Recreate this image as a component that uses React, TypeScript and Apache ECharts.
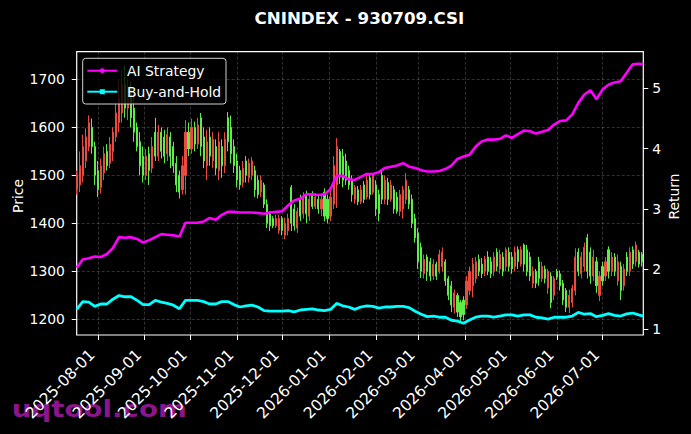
import React, { useEffect, useRef } from "react";
import * as echarts from "echarts";

const TITLE = "CNINDEX - 930709.CSI";
const START_DATE = "2025-07-18";
const END_DATE = "2026-07-28";
const CANDLE_STEP_DAYS = 2;
const LINE_STEP_DAYS = 4;

const MONTH_TICKS = [
  "2025-08-01", "2025-09-01", "2025-10-01", "2025-11-01", "2025-12-01", "2026-01-01",
  "2026-02-01", "2026-03-01", "2026-04-01", "2026-05-01", "2026-06-01", "2026-07-01",
];
const PRICE_TICKS = [1200, 1300, 1400, 1500, 1600, 1700];
const RETURN_TICKS = [1, 2, 3, 4, 5];

// [open, close, low, high], one every 2 days from START_DATE
const CANDLES: number[][] = [
  [1472, 1498, 1460, 1510], [1480, 1520, 1465, 1550], [1500, 1560, 1485, 1585], [1530, 1580, 1515, 1598],
  [1560, 1610, 1550, 1625], [1600, 1560, 1545, 1618], [1560, 1500, 1480, 1570], [1510, 1470, 1455, 1530],
  [1475, 1520, 1462, 1535], [1505, 1545, 1490, 1560], [1550, 1520, 1510, 1565], [1525, 1565, 1515, 1580],
  [1550, 1590, 1530, 1600], [1580, 1630, 1570, 1650], [1610, 1660, 1590, 1700], [1630, 1690, 1610, 1720],
  [1690, 1640, 1620, 1730], [1640, 1680, 1615, 1700], [1680, 1620, 1600, 1695], [1640, 1590, 1570, 1670],
  [1600, 1560, 1550, 1610], [1570, 1520, 1500, 1590], [1540, 1500, 1485, 1560], [1500, 1540, 1490, 1555],
  [1545, 1510, 1480, 1560], [1515, 1560, 1505, 1580], [1590, 1540, 1530, 1620], [1540, 1590, 1530, 1605],
  [1590, 1550, 1535, 1600], [1580, 1540, 1525, 1595], [1545, 1585, 1530, 1600], [1580, 1540, 1515, 1590],
  [1560, 1520, 1505, 1570], [1525, 1480, 1465, 1540], [1500, 1465, 1452, 1510], [1470, 1520, 1460, 1540],
  [1500, 1590, 1460, 1615], [1590, 1555, 1540, 1610], [1555, 1600, 1545, 1618], [1600, 1565, 1550, 1612],
  [1565, 1605, 1555, 1620], [1620, 1560, 1540, 1630], [1580, 1530, 1515, 1600], [1520, 1570, 1490, 1595],
  [1580, 1540, 1520, 1600], [1530, 1575, 1515, 1590], [1560, 1515, 1500, 1575], [1510, 1570, 1490, 1590],
  [1560, 1520, 1495, 1575], [1520, 1575, 1505, 1590], [1620, 1570, 1550, 1632], [1600, 1545, 1525, 1625],
  [1560, 1520, 1505, 1575], [1530, 1490, 1475, 1545], [1510, 1480, 1470, 1520], [1485, 1515, 1475, 1530],
  [1530, 1500, 1485, 1540], [1495, 1525, 1485, 1535], [1500, 1530, 1490, 1538], [1510, 1470, 1455, 1520],
  [1490, 1460, 1452, 1500], [1465, 1490, 1455, 1500], [1480, 1440, 1432, 1485], [1440, 1400, 1390, 1450],
  [1420, 1395, 1384, 1425], [1410, 1395, 1390, 1415], [1395, 1410, 1390, 1418], [1385, 1410, 1378, 1418],
  [1410, 1385, 1375, 1415], [1375, 1400, 1367, 1412], [1385, 1410, 1375, 1420], [1475, 1400, 1384, 1480],
  [1430, 1395, 1385, 1440], [1390, 1425, 1380, 1433], [1450, 1415, 1405, 1460], [1420, 1455, 1410, 1465],
  [1460, 1420, 1400, 1468], [1415, 1450, 1405, 1460], [1460, 1435, 1430, 1467], [1435, 1455, 1430, 1462],
  [1450, 1430, 1420, 1458], [1430, 1450, 1415, 1460], [1465, 1415, 1404, 1473], [1450, 1410, 1400, 1460],
  [1415, 1455, 1405, 1470], [1440, 1520, 1430, 1540], [1480, 1560, 1432, 1578], [1550, 1500, 1482, 1555],
  [1540, 1490, 1475, 1555], [1530, 1490, 1480, 1545], [1510, 1480, 1470, 1520], [1490, 1460, 1445, 1500],
  [1450, 1475, 1441, 1480], [1470, 1445, 1438, 1478], [1445, 1470, 1440, 1480], [1480, 1450, 1442, 1488],
  [1455, 1490, 1450, 1500], [1495, 1460, 1450, 1505], [1465, 1500, 1460, 1505], [1480, 1430, 1415, 1490],
  [1460, 1420, 1404, 1470], [1500, 1450, 1440, 1510], [1450, 1490, 1440, 1500], [1485, 1450, 1438, 1495],
  [1450, 1480, 1445, 1490], [1470, 1430, 1420, 1478], [1455, 1425, 1420, 1465], [1425, 1460, 1415, 1470],
  [1430, 1470, 1410, 1478], [1450, 1490, 1440, 1505], [1470, 1440, 1430, 1478], [1450, 1400, 1390, 1460],
  [1410, 1370, 1360, 1420], [1380, 1320, 1305, 1390], [1350, 1300, 1286, 1360], [1295, 1325, 1285, 1335],
  [1330, 1300, 1280, 1335], [1320, 1290, 1280, 1328], [1290, 1315, 1282, 1325], [1315, 1290, 1282, 1320],
  [1300, 1335, 1295, 1345], [1310, 1340, 1300, 1350], [1320, 1280, 1270, 1325], [1285, 1250, 1240, 1290],
  [1270, 1230, 1215, 1280], [1225, 1255, 1212, 1262], [1250, 1215, 1205, 1255], [1235, 1205, 1195, 1240],
  [1240, 1210, 1198, 1248], [1230, 1280, 1222, 1290], [1260, 1300, 1250, 1310], [1270, 1315, 1246, 1328],
  [1285, 1320, 1275, 1330], [1325, 1300, 1290, 1335], [1315, 1295, 1286, 1328], [1300, 1325, 1290, 1332],
  [1330, 1300, 1292, 1342], [1320, 1295, 1286, 1330], [1300, 1330, 1290, 1340], [1340, 1310, 1300, 1348],
  [1305, 1335, 1295, 1345], [1330, 1300, 1290, 1340], [1310, 1345, 1300, 1350], [1340, 1310, 1300, 1350],
  [1330, 1305, 1295, 1340], [1310, 1340, 1300, 1352], [1345, 1320, 1305, 1352], [1315, 1345, 1310, 1352],
  [1355, 1315, 1300, 1358], [1345, 1300, 1290, 1355], [1330, 1290, 1280, 1340], [1275, 1300, 1265, 1310],
  [1300, 1275, 1265, 1305], [1320, 1285, 1270, 1330], [1285, 1310, 1278, 1320], [1305, 1285, 1275, 1312],
  [1265, 1300, 1253, 1305], [1290, 1235, 1223, 1298], [1250, 1285, 1240, 1290], [1300, 1288, 1282, 1305],
  [1295, 1270, 1260, 1302], [1275, 1240, 1230, 1282], [1260, 1225, 1215, 1265], [1225, 1250, 1213, 1262],
  [1235, 1265, 1225, 1272], [1260, 1330, 1250, 1348], [1340, 1300, 1290, 1348], [1295, 1330, 1285, 1340],
  [1310, 1350, 1300, 1360], [1370, 1300, 1285, 1378], [1340, 1290, 1274, 1350], [1290, 1330, 1280, 1345],
  [1320, 1270, 1255, 1330], [1250, 1290, 1238, 1300], [1310, 1280, 1270, 1320], [1290, 1320, 1280, 1330],
  [1345, 1300, 1285, 1352], [1300, 1330, 1290, 1340], [1330, 1300, 1290, 1338], [1280, 1320, 1270, 1335],
  [1310, 1260, 1240, 1320], [1270, 1305, 1260, 1315], [1330, 1300, 1290, 1340], [1300, 1340, 1290, 1350],
  [1345, 1315, 1305, 1352], [1320, 1355, 1310, 1362], [1340, 1315, 1308, 1345], [1335, 1320, 1310, 1340],
];

// cumulative return, one point every 4 days from START_DATE, last point on END_DATE
const AI_STRATEGY = [
  2.02, 2.16, 2.18, 2.21, 2.20, 2.25, 2.35, 2.53, 2.52, 2.53,
  2.50, 2.44, 2.48, 2.53, 2.58, 2.57, 2.56, 2.54, 2.77, 2.77,
  2.77, 2.79, 2.85, 2.82, 2.90, 2.95, 2.95, 2.94, 2.94, 2.94,
  2.93, 2.92, 2.94, 2.95, 2.96, 3.06, 3.14, 3.17, 3.24, 3.24,
  3.23, 3.24, 3.33, 3.55, 3.55, 3.49, 3.48, 3.53, 3.58, 3.58,
  3.61, 3.68, 3.70, 3.72, 3.76, 3.70, 3.68, 3.64, 3.62, 3.62,
  3.63, 3.66, 3.72, 3.83, 3.87, 3.90, 4.03, 4.12, 4.15, 4.15,
  4.16, 4.22, 4.18, 4.24, 4.30, 4.29, 4.25, 4.28, 4.31, 4.40,
  4.46, 4.47, 4.57, 4.76, 4.90, 4.97, 4.82, 4.98, 5.06, 5.10,
  5.12, 5.26, 5.40, 5.41, 5.40,
];
const BUY_AND_HOLD = [
  1.33, 1.46, 1.45, 1.38, 1.42, 1.42, 1.50, 1.56, 1.54, 1.54,
  1.48, 1.41, 1.41, 1.48, 1.45, 1.43, 1.40, 1.34, 1.48, 1.48,
  1.48, 1.46, 1.42, 1.42, 1.46, 1.46, 1.41, 1.37, 1.39, 1.40,
  1.37, 1.31, 1.30, 1.30, 1.30, 1.31, 1.29, 1.32, 1.33, 1.34,
  1.32, 1.31, 1.33, 1.43, 1.39, 1.37, 1.33, 1.37, 1.39, 1.38,
  1.35, 1.37, 1.37, 1.38, 1.38, 1.36, 1.30, 1.25, 1.21, 1.22,
  1.20, 1.20, 1.15, 1.135, 1.10, 1.155, 1.20, 1.22, 1.22, 1.20,
  1.22, 1.24, 1.24, 1.22, 1.24, 1.24, 1.20, 1.19, 1.17, 1.20,
  1.20, 1.20, 1.22, 1.28, 1.25, 1.26, 1.21, 1.23, 1.26, 1.23,
  1.22, 1.255, 1.27, 1.24, 1.22,
];

const FONT = "DejaVu Sans";
const FS = 13.9;
const FS_X = 15.5;
const RED = "#ea4a40";
const GREEN = "#5eee4a";
const MAGENTA = "#ff00ff";
const CYAN = "#00ffff";
const GRID_LINE = { color: "rgba(255,255,255,0.28)", type: [3, 2] as number[], width: 0.7 };

const DAY = 86400000;
const t0 = Date.parse(START_DATE);
const tEnd = Date.parse(END_DATE);
const lineTime = (i: number) => (i === AI_STRATEGY.length - 1 ? tEnd : t0 + i * LINE_STEP_DAYS * DAY);

export default function App() {
  const ref = useRef<HTMLDivElement>(null);
  useEffect(() => {
    const chart = echarts.init(ref.current!, null, { renderer: "svg" });
    const monthTs = MONTH_TICKS.map((d) => Date.parse(d));
    const legendZ = 100;
    chart.setOption({
      animation: false,
      backgroundColor: "#000",
      textStyle: { fontFamily: FONT, fontSize: FS },
      grid: {
        show: true, left: 76.7, right: 47.7, top: 51.7, bottom: 99,
        borderColor: "#fff", borderWidth: 1.2, backgroundColor: "transparent",
      },
      xAxis: {
        type: "value", min: t0, max: tEnd, scale: true,
        axisLine: { show: false },
        axisTick: { show: true, length: 5, lineStyle: { color: "#fff", width: 1 }, customValues: monthTs },
        axisLabel: {
          customValues: monthTs, rotate: 45, align: "right", verticalAlign: "bottom", margin: 23,
          color: "#fff", fontSize: FS_X, fontFamily: FONT, hideOverlap: false,
          formatter: (v: number) => new Date(v).toISOString().slice(0, 10),
        },
        splitLine: { show: true, lineStyle: GRID_LINE },
      },
      yAxis: [
        {
          type: "value", position: "left", min: 1167.3, max: 1757.7,
          axisLine: { show: false },
          axisTick: { show: true, length: 5, lineStyle: { color: "#fff" }, customValues: PRICE_TICKS },
          axisLabel: {
            customValues: PRICE_TICKS, color: "#fff", fontSize: FS, fontFamily: FONT, margin: 11.8,
            formatter: (v: number) => String(Math.round(v)),
          },
          splitLine: { show: true, lineStyle: GRID_LINE },
        },
        {
          type: "value", position: "right", min: 0.905, max: 5.61,
          axisLine: { show: false },
          axisTick: { show: true, length: 5, lineStyle: { color: "#fff" }, customValues: RETURN_TICKS },
          axisLabel: {
            customValues: RETURN_TICKS, color: "#fff", fontSize: FS, fontFamily: FONT, margin: 9,
            formatter: (v: number) => String(Math.round(v)),
          },
          splitLine: { show: false },
        },
      ],
      series: [
        {
          type: "candlestick", name: "Price", xAxisIndex: 0, yAxisIndex: 0,
          data: CANDLES.map((c, j) => [t0 + j * CANDLE_STEP_DAYS * DAY, c[0], c[1], c[2], c[3]]),
          encode: { x: 0, y: [1, 2, 3, 4] },
          barWidth: 1.6,
          itemStyle: { color: RED, color0: GREEN, borderColor: RED, borderColor0: GREEN, borderWidth: 1 },
          silent: true,
        },
        {
          type: "line", name: "AI Strategy", yAxisIndex: 1, showSymbol: false, symbol: "circle",
          data: AI_STRATEGY.map((v, i) => [lineTime(i), v]),
          lineStyle: { color: MAGENTA, width: 2.6 }, itemStyle: { color: MAGENTA }, silent: true,
        },
        {
          type: "line", name: "Buy-and-Hold", yAxisIndex: 1, showSymbol: false, symbol: "rect",
          data: BUY_AND_HOLD.map((v, i) => [lineTime(i), v]),
          lineStyle: { color: CYAN, width: 2.8 }, itemStyle: { color: CYAN }, silent: true,
        },
      ],
      graphic: [
        {
          type: "text", z: -10, x: 11.7, y: 408.4, scaleX: 1.18,
          style: { text: "uqtool.com", fill: "#8b168b", font: `bold 23.5px ${FONT}`, align: "left", verticalAlign: "middle" },
        },
        {
          type: "text", x: 359.4, y: 18.2,
          style: { text: TITLE, fill: "#fff", font: `bold 16.7px ${FONT}`, align: "center", verticalAlign: "middle" },
        },
        {
          type: "text", x: 17.5, y: 196, rotation: Math.PI / 2,
          style: { text: "Price", fill: "#fff", font: `${FS}px ${FONT}`, align: "center", verticalAlign: "middle" },
        },
        {
          type: "text", x: 673.8, y: 196.5, rotation: Math.PI / 2,
          style: { text: "Return", fill: "#fff", font: `${FS}px ${FONT}`, align: "center", verticalAlign: "middle" },
        },
        {
          type: "rect", z: legendZ, shape: { x: 82.7, y: 58.3, width: 143.3, height: 45.7, r: 3 },
          style: { fill: "rgba(0,0,0,0.8)", stroke: "#d0d0d0", lineWidth: 1 },
        },
        { type: "line", z: legendZ + 1, shape: { x1: 87.3, y1: 70.7, x2: 117.3, y2: 70.7 }, style: { stroke: MAGENTA, lineWidth: 2 } },
        { type: "circle", z: legendZ + 2, shape: { cx: 102.3, cy: 70.7, r: 2.5 }, style: { fill: MAGENTA } },
        { type: "line", z: legendZ + 1, shape: { x1: 87.3, y1: 91.7, x2: 117.3, y2: 91.7 }, style: { stroke: CYAN, lineWidth: 2 } },
        { type: "rect", z: legendZ + 2, shape: { x: 99.8, y: 89.2, width: 5, height: 5 }, style: { fill: CYAN } },
        {
          type: "text", z: legendZ + 1, x: 127, y: 70.7,
          style: { text: "AI Strategy", fill: "#fff", font: `${FS}px ${FONT}`, align: "left", verticalAlign: "middle" },
        },
        {
          type: "text", z: legendZ + 1, x: 127, y: 91.7,
          style: { text: "Buy-and-Hold", fill: "#fff", font: `${FS}px ${FONT}`, align: "left", verticalAlign: "middle" },
        },
      ],
    });
    return () => chart.dispose();
  }, []);
  return <div ref={ref} style={{ position: "fixed", left: 0, top: 0, width: 691, height: 434 }} />;
}
